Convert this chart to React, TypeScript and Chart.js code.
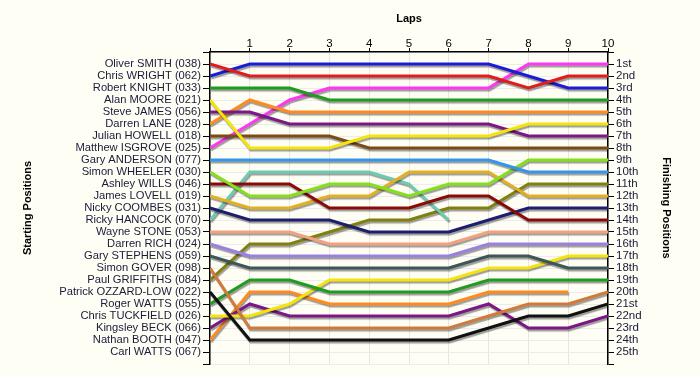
import { useEffect, useRef } from 'react';
import { Chart, registerables } from 'chart.js';

Chart.register(...registerables);

const laps = [0, 1, 2, 3, 4, 5, 6, 7, 8, 9, 10];

const driverNames = [
  'Oliver SMITH', 'Chris WRIGHT', 'Robert KNIGHT', 'Alan MOORE', 'Steve JAMES',
  'Darren LANE', 'Julian HOWELL', 'Matthew ISGROVE', 'Gary ANDERSON', 'Simon WHEELER',
  'Ashley WILLS', 'James LOVELL', 'Nicky COOMBES', 'Ricky HANCOCK', 'Wayne STONE',
  'Darren RICH', 'Gary STEPHENS', 'Simon GOVER', 'Paul GRIFFITHS', 'Patrick OZZARD-LOW',
  'Roger WATTS', 'Chris TUCKFIELD', 'Kingsley BECK', 'Nathan BOOTH', 'Carl WATTS',
];

const carNumbers = [
  '038', '062', '033', '021', '056', '028', '018', '025', '077', '030',
  '046', '019', '031', '070', '053', '024', '059', '098', '084', '022',
  '055', '026', '066', '047', '067',
];

const finishLabels = [
  '1st', '2nd', '3rd', '4th', '5th', '6th', '7th', '8th', '9th', '10th',
  '11th', '12th', '13th', '14th', '15th', '16th', '17th', '18th', '19th', '20th',
  '21st', '22nd', '23rd', '24th', '25th',
];

// position of each driver at laps 0..10 (null = not running)
const posSmith = [1, 2, 2, 2, 2, 2, 2, 2, 3, 2, 2];
const posWright = [2, 1, 1, 1, 1, 1, 1, 1, 2, 3, 3];
const posKnight = [3, 3, 3, 4, 4, 4, 4, 4, 4, 4, 4];
const posMoore = [4, 8, 8, 8, 7, 7, 7, 7, 6, 6, 6];
const posJames = [5, 5, 6, 6, 6, 6, 6, 6, 7, 7, 7];
const posLane = [6, 4, 5, 5, 5, 5, 5, 5, 5, 5, 5];
const posHowell = [7, 7, 7, 7, 8, 8, 8, 8, 8, 8, 8];
const posIsgrove = [8, 6, 4, 3, 3, 3, 3, 3, 1, 1, 1];
const posAnderson = [9, 9, 9, 9, 9, 9, 9, 9, 10, 10, 10];
const posWheeler = [10, 12, 12, 11, 11, 12, 11, 11, 9, 9, 9];
const posWills = [11, 11, 11, 13, 13, 13, 12, 12, 14, 14, 14];
const posLovell = [12, 13, 13, 12, 12, 10, 10, 10, 12, 12, 12];
const posCoombes = [13, 14, 14, 14, 15, 15, 15, 14, 13, 13, 13];
const posHancock = [14, 10, 10, 10, 10, 11, 14, null, null, null, null];
const posStone = [15, 15, 15, 16, 16, 16, 16, 15, 15, 15, 15];
const posRich = [16, 17, 17, 17, 17, 17, 17, 16, 16, 16, 16];
const posStephens = [17, 18, 18, 18, 18, 18, 18, 17, 17, 18, 18];
const posGover = [18, 23, 23, 23, 23, 23, 23, 22, 21, 21, 20];
const posGriffiths = [19, 16, 16, 15, 14, 14, 13, 13, 11, 11, 11];
const posOzzardLow = [20, 24, 24, 24, 24, 24, 24, 23, 22, 22, 21];
const posRWatts = [21, 19, 19, 20, 20, 20, 20, 19, 19, 19, 19];
const posTuckfield = [22, 22, 21, 19, 19, 19, 19, 18, 18, 17, 17];
const posBeck = [23, 21, 22, 22, 22, 22, 22, 21, 23, 23, 22];
const posBooth = [24, 20, 20, 21, 21, 21, 21, 20, 20, 20, null];
const posCWatts: (number | null)[] = [];

const positions = [
  posSmith, posWright, posKnight, posMoore, posJames, posLane, posHowell, posIsgrove,
  posAnderson, posWheeler, posWills, posLovell, posCoombes, posHancock, posStone,
  posRich, posStephens, posGover, posGriffiths, posOzzardLow, posRWatts, posTuckfield,
  posBeck, posBooth, posCWatts,
];

const lineColors = [
  '#e01c1c', '#1c1cd8', '#1f9c1f', '#f4e40c', '#7c1786', '#ff8a1e', '#7c4a14', '#ff36f2',
  '#3396ec', '#84e01a', '#8a0a0a', '#e2b022', '#1e1e70', '#6ccbb0', '#f5a080',
  '#9a80e0', '#3e5656', '#d07a3c', '#80800e', '#111111', '#1f9c1f', '#f4e40c',
  '#7c1786', '#ff8a1e', '#888888',
];

const FONT = "'Liberation Sans', Arial, sans-serif";
const TEXT = '#1a1a3a';

const shadowPlugin = {
  id: 'lineShadow',
  beforeDatasetDraw(chart: any) {
    const ctx = chart.ctx;
    ctx.save();
    ctx.shadowColor = 'rgba(0,0,0,0.38)';
    ctx.shadowOffsetX = 1;
    ctx.shadowOffsetY = 2;
    ctx.shadowBlur = 1;
  },
  afterDatasetDraw(chart: any) {
    chart.ctx.restore();
  },
};

export default function App() {
  const ref = useRef<HTMLCanvasElement | null>(null);

  useEffect(() => {
    if (!ref.current) return;
    const datasets = positions.map((p, i) => ({
      label: `${driverNames[i]} (${carNumbers[i]})`,
      data: p.map((v, j) => ({ x: laps[j], y: v })),
      borderColor: lineColors[i],
      backgroundColor: lineColors[i],
      borderWidth: 3,
      pointRadius: 0,
      tension: 0,
      spanGaps: false,
      fill: false,
      yAxisID: 'y',
    }));

    const chart = new Chart(ref.current, {
      type: 'line',
      data: { datasets },
      options: {
        animation: false,
        responsive: false,
        maintainAspectRatio: false,
        layout: { padding: { bottom: 11 } },
        plugins: { legend: { display: false }, tooltip: { enabled: false } },
        scales: {
          x: {
            type: 'linear',
            position: 'top',
            min: 0,
            max: 10,
            afterFit: (s: any) => { s.height = 52; },
            ticks: {
              stepSize: 1,
              autoSkip: false,
              maxRotation: 0,
              padding: -3,
              color: '#000',
              font: { family: FONT, size: 11.5 },
              callback: (v: any) => (v === 0 ? '' : String(v)),
            },
            grid: { color: '#e6e6e6', lineWidth: 1, tickColor: '#000', tickLength: 4 },
            border: { color: '#000', width: 1.5 },
            title: {
              display: true,
              text: 'Laps',
              color: '#000',
              font: { family: FONT, size: 11, weight: 'bold' },
              padding: { top: 12, bottom: 0 },
            },
          },
          y: {
            type: 'linear',
            position: 'left',
            reverse: true,
            min: 0,
            max: 26,
            afterFit: (s: any) => { s.width = 210; },
            ticks: {
              stepSize: 1,
              autoSkip: false,
              padding: 2,
              color: TEXT,
              font: { family: FONT, size: 11.2 },
              callback: (v: any) => {
                const i = Number(v) - 1;
                return i >= 0 && i < driverNames.length ? `${driverNames[i]} (${carNumbers[i]})` : '';
              },
            },
            grid: { color: '#ececec', lineWidth: 1, tickColor: '#000', tickLength: 7 },
            border: { color: '#000', width: 1.5 },
            title: {
              display: true,
              text: 'Starting Positions',
              color: '#000',
              font: { family: FONT, size: 11, weight: 'bold' },
              padding: { top: 21, bottom: 0 },
            },
          },
          y2: {
            type: 'linear',
            position: 'right',
            reverse: true,
            min: 0,
            max: 26,
            afterFit: (s: any) => { s.width = 92; },
            ticks: {
              stepSize: 1,
              autoSkip: false,
              padding: 2,
              color: TEXT,
              font: { family: FONT, size: 11.5 },
              callback: (v: any) => {
                const i = Number(v) - 1;
                return i >= 0 && i < finishLabels.length ? finishLabels[i] : '';
              },
            },
            grid: { drawOnChartArea: false, tickColor: '#000', tickLength: 6 },
            border: { color: '#000', width: 1.5 },
            title: {
              display: true,
              text: 'Finishing Positions',
              color: '#000',
              font: { family: FONT, size: 11, weight: 'bold' },
              padding: { top: 27, bottom: 0 },
            },
          },
        },
      },
      plugins: [shadowPlugin],
    } as any);

    return () => chart.destroy();
  }, []);

  return (
    <div style={{ position: 'fixed', left: 0, top: 0, width: 700, height: 375, background: '#fefef5' }}>
      <canvas ref={ref} width={700} height={375} style={{ display: 'block' }} />
    </div>
  );
}
